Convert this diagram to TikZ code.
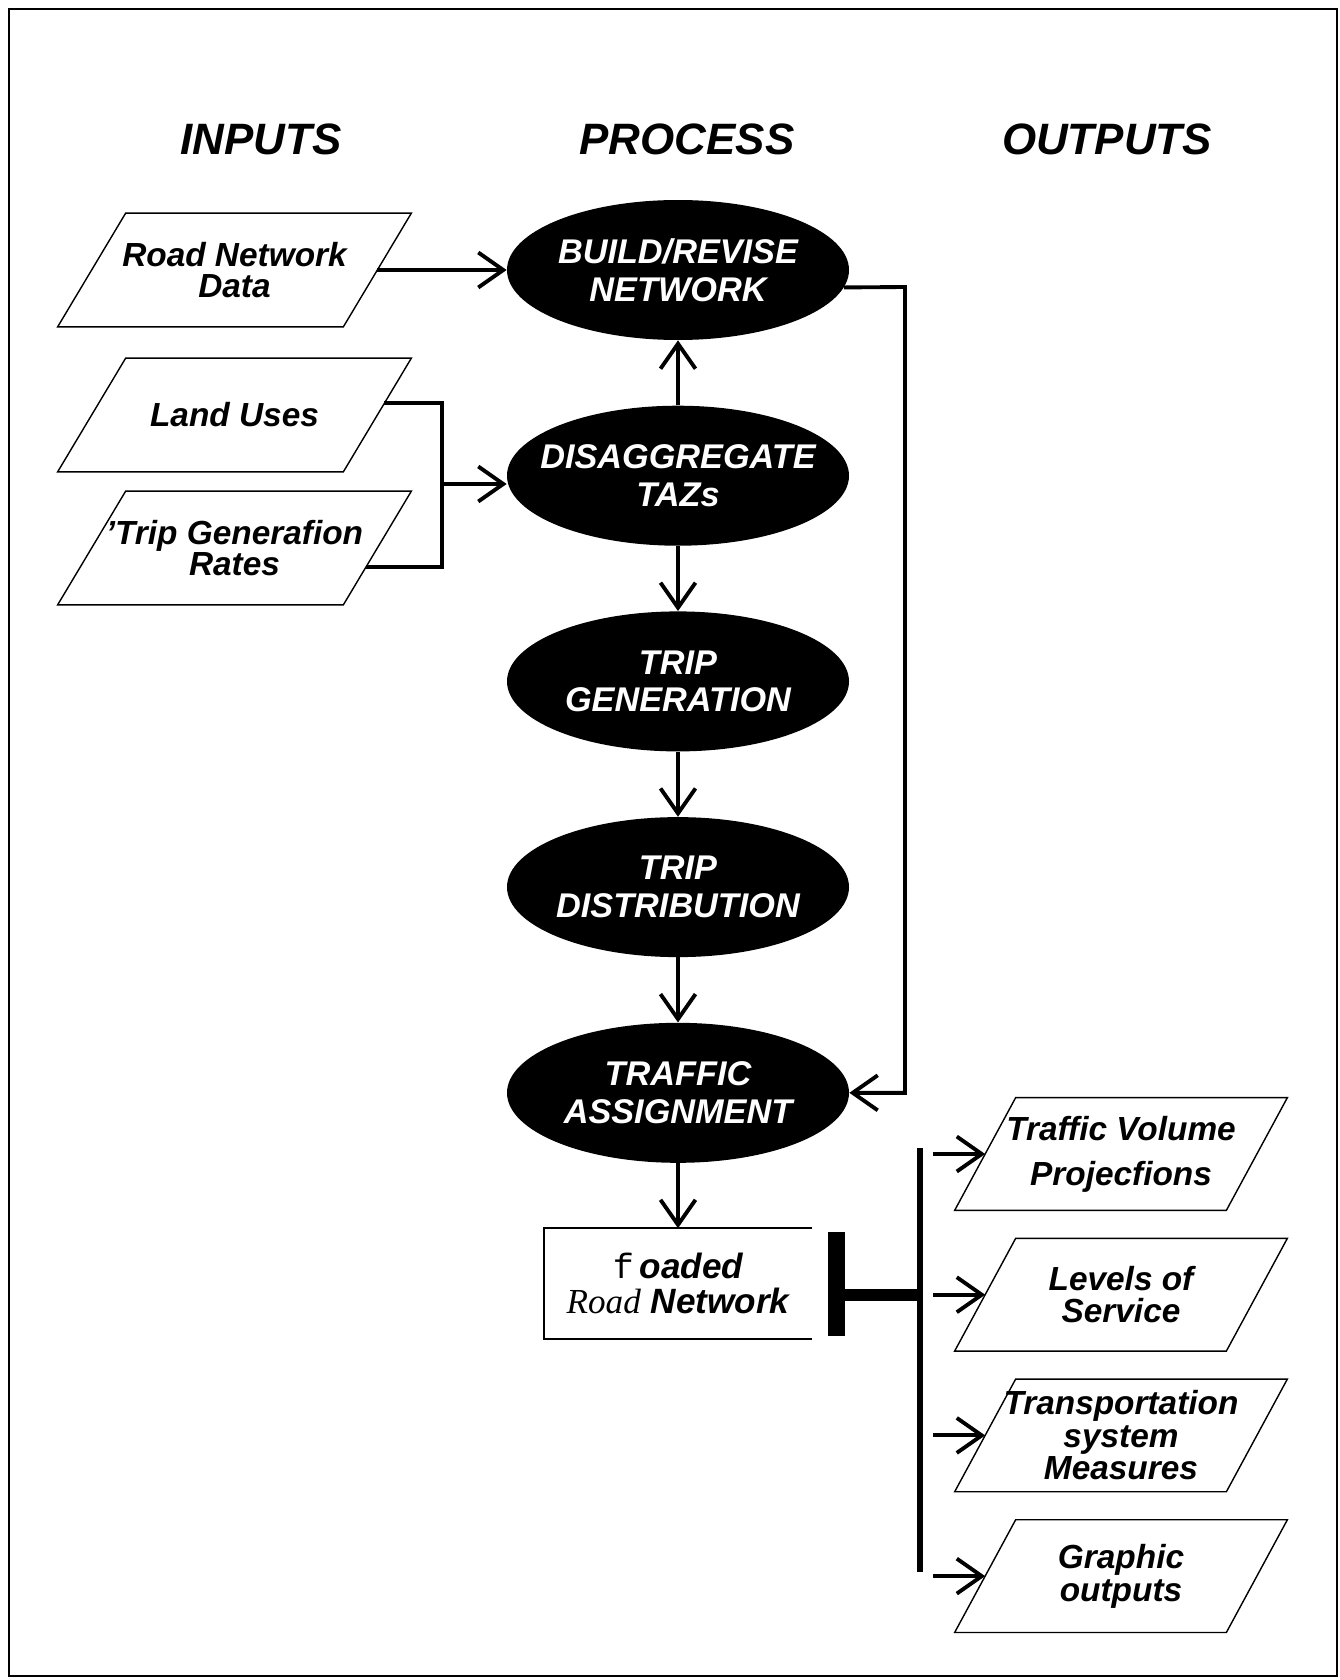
\documentclass[tikz,border=0pt]{standalone}
\usepackage{fontspec}
\setmainfont{Liberation Sans}
\newfontfamily\serifit{Liberation Serif}
\newfontfamily\monof{Liberation Mono}
\usetikzlibrary{shapes.geometric, positioning, arrows.meta, calc}

\begin{document}
\begin{tikzpicture}[
			node distance=1.3cm,
			>={Straight Barb[length=5mm, width=7mm]},
			heading/.style={
				font=\fontsize{25}{25}\selectfont\bfseries\itshape
			},
			process_node/.style={
				ellipse,
				fill=black,
				text=white,
				minimum width=6.84cm,
				minimum height=2.8cm,
				inner xsep=-15pt,
				inner ysep=0pt,
				align=center,
				font=\fontsize{19.5}{21.5}\selectfont\bfseries\itshape
			},
			input_node/.style={
				rectangle,
				draw=none,
				minimum width=7.06cm,
				minimum height=2.26cm,
				align=center,
				font=\fontsize{19}{18}\selectfont\bfseries\itshape
			},
			output_node/.style={
				input_node,
				minimum width=6.64cm,
				minimum height=2.24cm,
				font=\fontsize{19}{18.5}\selectfont\bfseries\itshape
			},
			result_node/.style={
				rectangle,
				draw=none,
				minimum width=5.36cm,
				minimum height=2.2cm,
				align=center,
				font=\fontsize{20}{19.5}\selectfont\bfseries\itshape
			},
			outline/.style={
				line width=0.8pt
			},
			line/.style={
				->,
				line width=2.2pt
			}
			]
			
			\useasboundingbox (0,0) rectangle (26.8,-33.6);
			\draw[line width=1pt] (0.18,-0.18) rectangle (26.74,-33.52);
			
			% Headings
			
			\node [heading] (H_in) at (5.22,-2.78) {INPUTS};
			\node [heading] (H_proc) at (13.74,-2.78) {PROCESS};
			\node [heading] (H_out) at (22.14,-2.78) {OUTPUTS};
			
			% Process
			
			\node [process_node] (build) at (13.56,-5.4) {BUILD/REVISE\\NETWORK};
			\node [process_node, below=of build] (disagg) {DISAGGREGATE\\TAZs};
			\node [process_node, below=of disagg] (tripgen) {TRIP\\GENERATION};
			\node [process_node, below=of tripgen] (tripdist) {TRIP\\DISTRIBUTION};
			\node [process_node, below=of tripdist] (assign) {TRAFFIC\\ASSIGNMENT};
			\node [result_node, below=of assign] (loaded) {{\monof\mdseries\upshape f}\,oaded\\{\serifit\mdseries Road} Network};
			\node [fill=black, inner sep=0pt, minimum width=0.34cm, minimum height=2.08cm, right=0.3cm of loaded] (bar) {};
			
			% Inputs
			
			\node [input_node] (roaddata) at (4.69,-5.4) {Road Network\\Data};
			\node [input_node] (landuse) at (4.69,-8.3) {Land Uses};
			\node [input_node] (triprates) at (4.69,-10.96) {'Trip Generafion\\Rates};
			
			\foreach \n in {roaddata, landuse, triprates}
				\draw[outline] ([xshift=1.36cm]\n.north west) -- (\n.north east) -- ([xshift=-1.36cm]\n.south east) -- (\n.south west) -- cycle;
			
			% Outputs
			
			\node [output_node] (volume) at (22.42,-23.08) {Traffic Volume\\[7pt]Projecfions};
			\node [output_node, below=0.56cm of volume] (los) {Levels of\\Service};
			\node [output_node, below=0.56cm of los] (measures) {Transportation\\system\\Measures};
			\node [output_node, below=0.56cm of measures] (graphic) {Graphic\\outputs};
			
			\foreach \n in {volume, los, measures, graphic}
				\draw[outline] ([xshift=1.22cm]\n.north west) -- (\n.north east) -- ([xshift=-1.22cm]\n.south east) -- (\n.south west) -- cycle;
			
			% Connections
			
			\draw[line width=1pt] (loaded.north east) -- (loaded.north west) -- (loaded.south west) -- (loaded.south east);
			
			\draw[line] ([xshift=-0.68cm]roaddata.east) -- (build.west);
			
			\coordinate (brk) at (8.84,-9.68);
			\draw[line width=2.2pt] ([xshift=-0.54cm, yshift=0.24cm]landuse.east) -| (brk) |- ([xshift=-0.9cm, yshift=-0.38cm]triprates.east);
			\draw[line] (brk) -- (brk -| disagg.west);
			
			\draw[line] (disagg) -- (build);
			\draw[line] (disagg) -- (tripgen);
			\draw[line] (tripgen) -- (tripdist);
			\draw[line] (tripdist) -- (assign);
			\draw[line] (assign) -- (loaded);
			
			\coordinate (fb) at (18.1,-5.74);
			\draw[line] (build.354) -- (fb) |- (assign.east);
			
			\coordinate (out_top) at (18.4,-22.96);
			\coordinate (out_bot) at (18.4,-31.44);
			\draw[line width=3.4pt] (out_top) -- (out_bot);
			\coordinate (bar_mid) at ([yshift=-0.22cm]bar.east);
			\draw[line width=0.24cm] (bar_mid) -- (bar_mid -| out_top);
			
			\foreach \n in {volume, los, measures, graphic}
				\draw[line] ($(out_top |- \n.west)+(0.26,0)$) -- ([xshift=0.61cm]\n.west);
			
		\end{tikzpicture}
\end{document}
